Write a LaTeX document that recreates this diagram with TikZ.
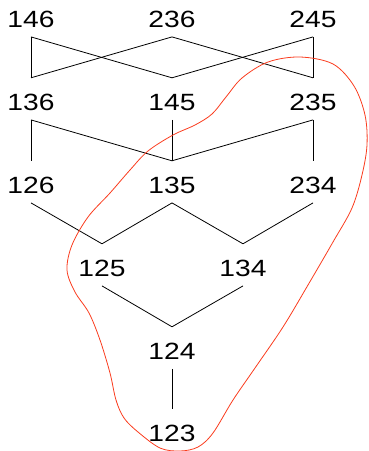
\documentclass[tikz,border=0pt]{standalone}
\usepackage{fontspec}
\newfontfamily\labfont[FakeStretch=1.2]{Liberation Sans}
\definecolor{loopred}{RGB}{250,60,30}
\begin{document}
\begin{tikzpicture}[x=1pt,y=-1pt,
  lab/.style={anchor=base,inner sep=0pt,text height=32pt,text depth=9.7pt,font=\labfont\fontsize{23.5pt}{24pt}\selectfont},
  edge/.style={line width=0.8pt,black},
  curve/.style={line width=0.8pt,draw=loopred}]
\useasboundingbox (0,0) rectangle (368,451);
% row 1
\node[lab] (a146) at (31,27) {146};
\node[lab] (a236) at (172,27) {236};
\node[lab] (a245) at (313,27) {245};
% row 2
\node[lab] (a136) at (31,110) {136};
\node[lab] (a145) at (172,110) {145};
\node[lab] (a235) at (313,110) {235};
% row 3
\node[lab] (a126) at (31,193) {126};
\node[lab] (a135) at (172,193) {135};
\node[lab] (a234) at (313,193) {234};
% row 4
\node[lab] (a125) at (102,276) {125};
\node[lab] (a134) at (243,276) {134};
% row 5
\node[lab] (a124) at (172,359) {124};
\node[lab] (a123) at (172,441) {123};
% edges
\draw[edge] (a146.south) -- (a136.north);
\draw[edge] (a146.south) -- (a145.north);
\draw[edge] (a236.south) -- (a136.north);
\draw[edge] (a236.south) -- (a235.north);
\draw[edge] (a245.south) -- (a145.north);
\draw[edge] (a245.south) -- (a235.north);
\draw[edge] (a136.south) -- (a126.north);
\draw[edge] (a136.south) -- (a135.north);
\draw[edge] (a145.south) -- (a135.north);
\draw[edge] (a235.south) -- (a135.north);
\draw[edge] (a235.south) -- (a234.north);
\draw[edge] (a126.south) -- (a125.north);
\draw[edge] (a135.south) -- (a125.north);
\draw[edge] (a135.south) -- (a134.north);
\draw[edge] (a234.south) -- (a134.north);
\draw[edge] (a125.south) -- (a124.north);
\draw[edge] (a134.south) -- (a124.north);
\draw[edge] (a124.south) -- (a123.north);
% red loop
\draw[curve] plot[smooth cycle, tension=0.55] coordinates {
 (180,451) (160,448) (138,432) (124,418) (116,400) (110,373) (100,340)
 (89,313) (75,292) (67,270) (72,245) (88,217) (110,193) (130,170)
 (148,151) (173,135) (195,125) (212,114) (226,97) (242,78) (268,62)
 (300,57) (333,64) (354,86) (365,115) (367,145) (362,175) (352,208)
 (333,242) (308,285) (283,327) (255,368) (233,400) (213,433) (198,447)};
\end{tikzpicture}
\end{document}
